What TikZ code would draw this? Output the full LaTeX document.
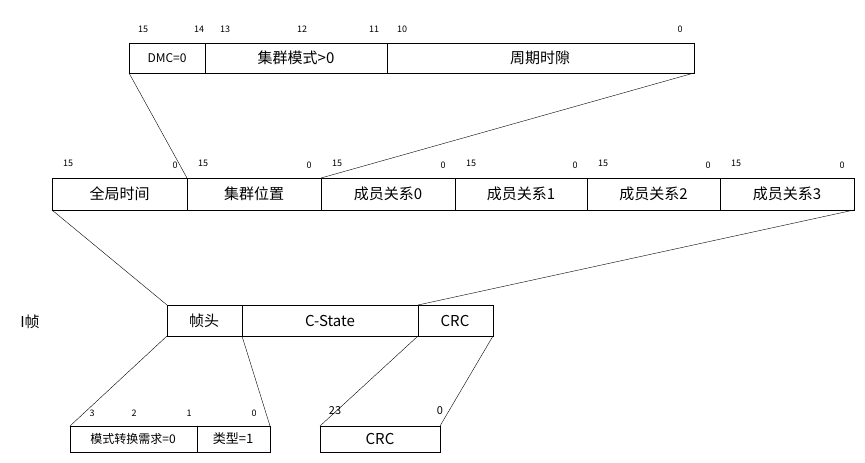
\documentclass[tikz,border=0pt]{standalone}
\usepackage{fontspec}
\setmainfont{Noto Sans CJK SC}
\begin{document}
\begin{tikzpicture}[x=1pt,y=-1pt,
  box/.style={draw,thick,minimum height=0pt,inner sep=0pt},
  lab/.style={font=\fontsize{15}{15}\selectfont},
  num/.style={font=\fontsize{9}{9}\selectfont},
  ln/.style={thin}]
\useasboundingbox (0,0) rectangle (865,463);
% top box
\draw[thick] (129,43) rectangle (694,73);
\draw[thick] (205,43)--(205,73) (387,43)--(387,73);
\node[font=\fontsize{12}{12}\selectfont] (t1) at (167,58) {DMC=0};
\node[lab] (t2) at (296,58) {集群模式>0};
\node[lab] (t3) at (540,58) {周期时隙};
\coordinate (tl) at (129,73); \coordinate (tr) at (694,73);
\foreach \x/\t in {143/15,199/14,225/13,302/12,374/11,402/10,680/0}
  \node[num] at (\x,29) {\t};
% middle row
\draw[thick] (52,178) rectangle (854,210);
\foreach \x in {187,321,455,587,720} \draw[thick] (\x,178)--(\x,210);
\foreach \a/\b/\t/\n in {52/187/全局时间/m1,187/321/集群位置/m2,321/455/成员关系0/m3,455/587/成员关系1/m4,587/720/成员关系2/m5,720/854/成员关系3/m6}{
  \node[lab] (\n) at ({(\a+\b)/2},194) {\t};
  \node[num] at (\a+16,163) {15};
  \node[num] at (\b-12,165) {0};
}
\coordinate (ml) at (52,210); \coordinate (mr) at (854,210);
\coordinate (m2t) at (187,178); \coordinate (m3t) at (321,178);
\draw[ln] (tl)--(m2t) (tr)--(m3t);
% frame
\node[lab] (ilab) at (30,322) {I帧};
\draw[thick] (167,305) rectangle (493,336);
\draw[thick] (242,305)--(242,336) (418,305)--(418,336);
\node[lab] (f1) at (204,321) {帧头};
\node[lab] (f2) at (330,321) {C-State};
\node[lab] (f3) at (455,321) {CRC};
\coordinate (fa) at (167,305); \coordinate (fb) at (418,305);
\draw[ln] (ml)--(fa) (mr)--(fb);
% bottom
\draw[thick] (70,426) rectangle (270,452);
\draw[thick] (197,426)--(197,452);
\node[font=\fontsize{12}{12}\selectfont] (b1) at (133,439) {模式转换需求=0};
\node[font=\fontsize{13}{13}\selectfont] (b2) at (233,439) {类型=1};
\foreach \x/\t in {92/3,134/2,189/1,254/0} \node[num] at (\x,413) {\t};
\draw[thick] (320,426) rectangle (440,452);
\node[lab] (b3) at (380,439) {CRC};
\node[font=\fontsize{11}{11}\selectfont] at (335,411) {23};
\node[font=\fontsize{11}{11}\selectfont] at (440,411) {0};
\draw[ln] (167,336)--(70,426) (242,336)--(270,426) (418,336)--(320,426) (493,336)--(440,426);
\end{tikzpicture}
\end{document}
